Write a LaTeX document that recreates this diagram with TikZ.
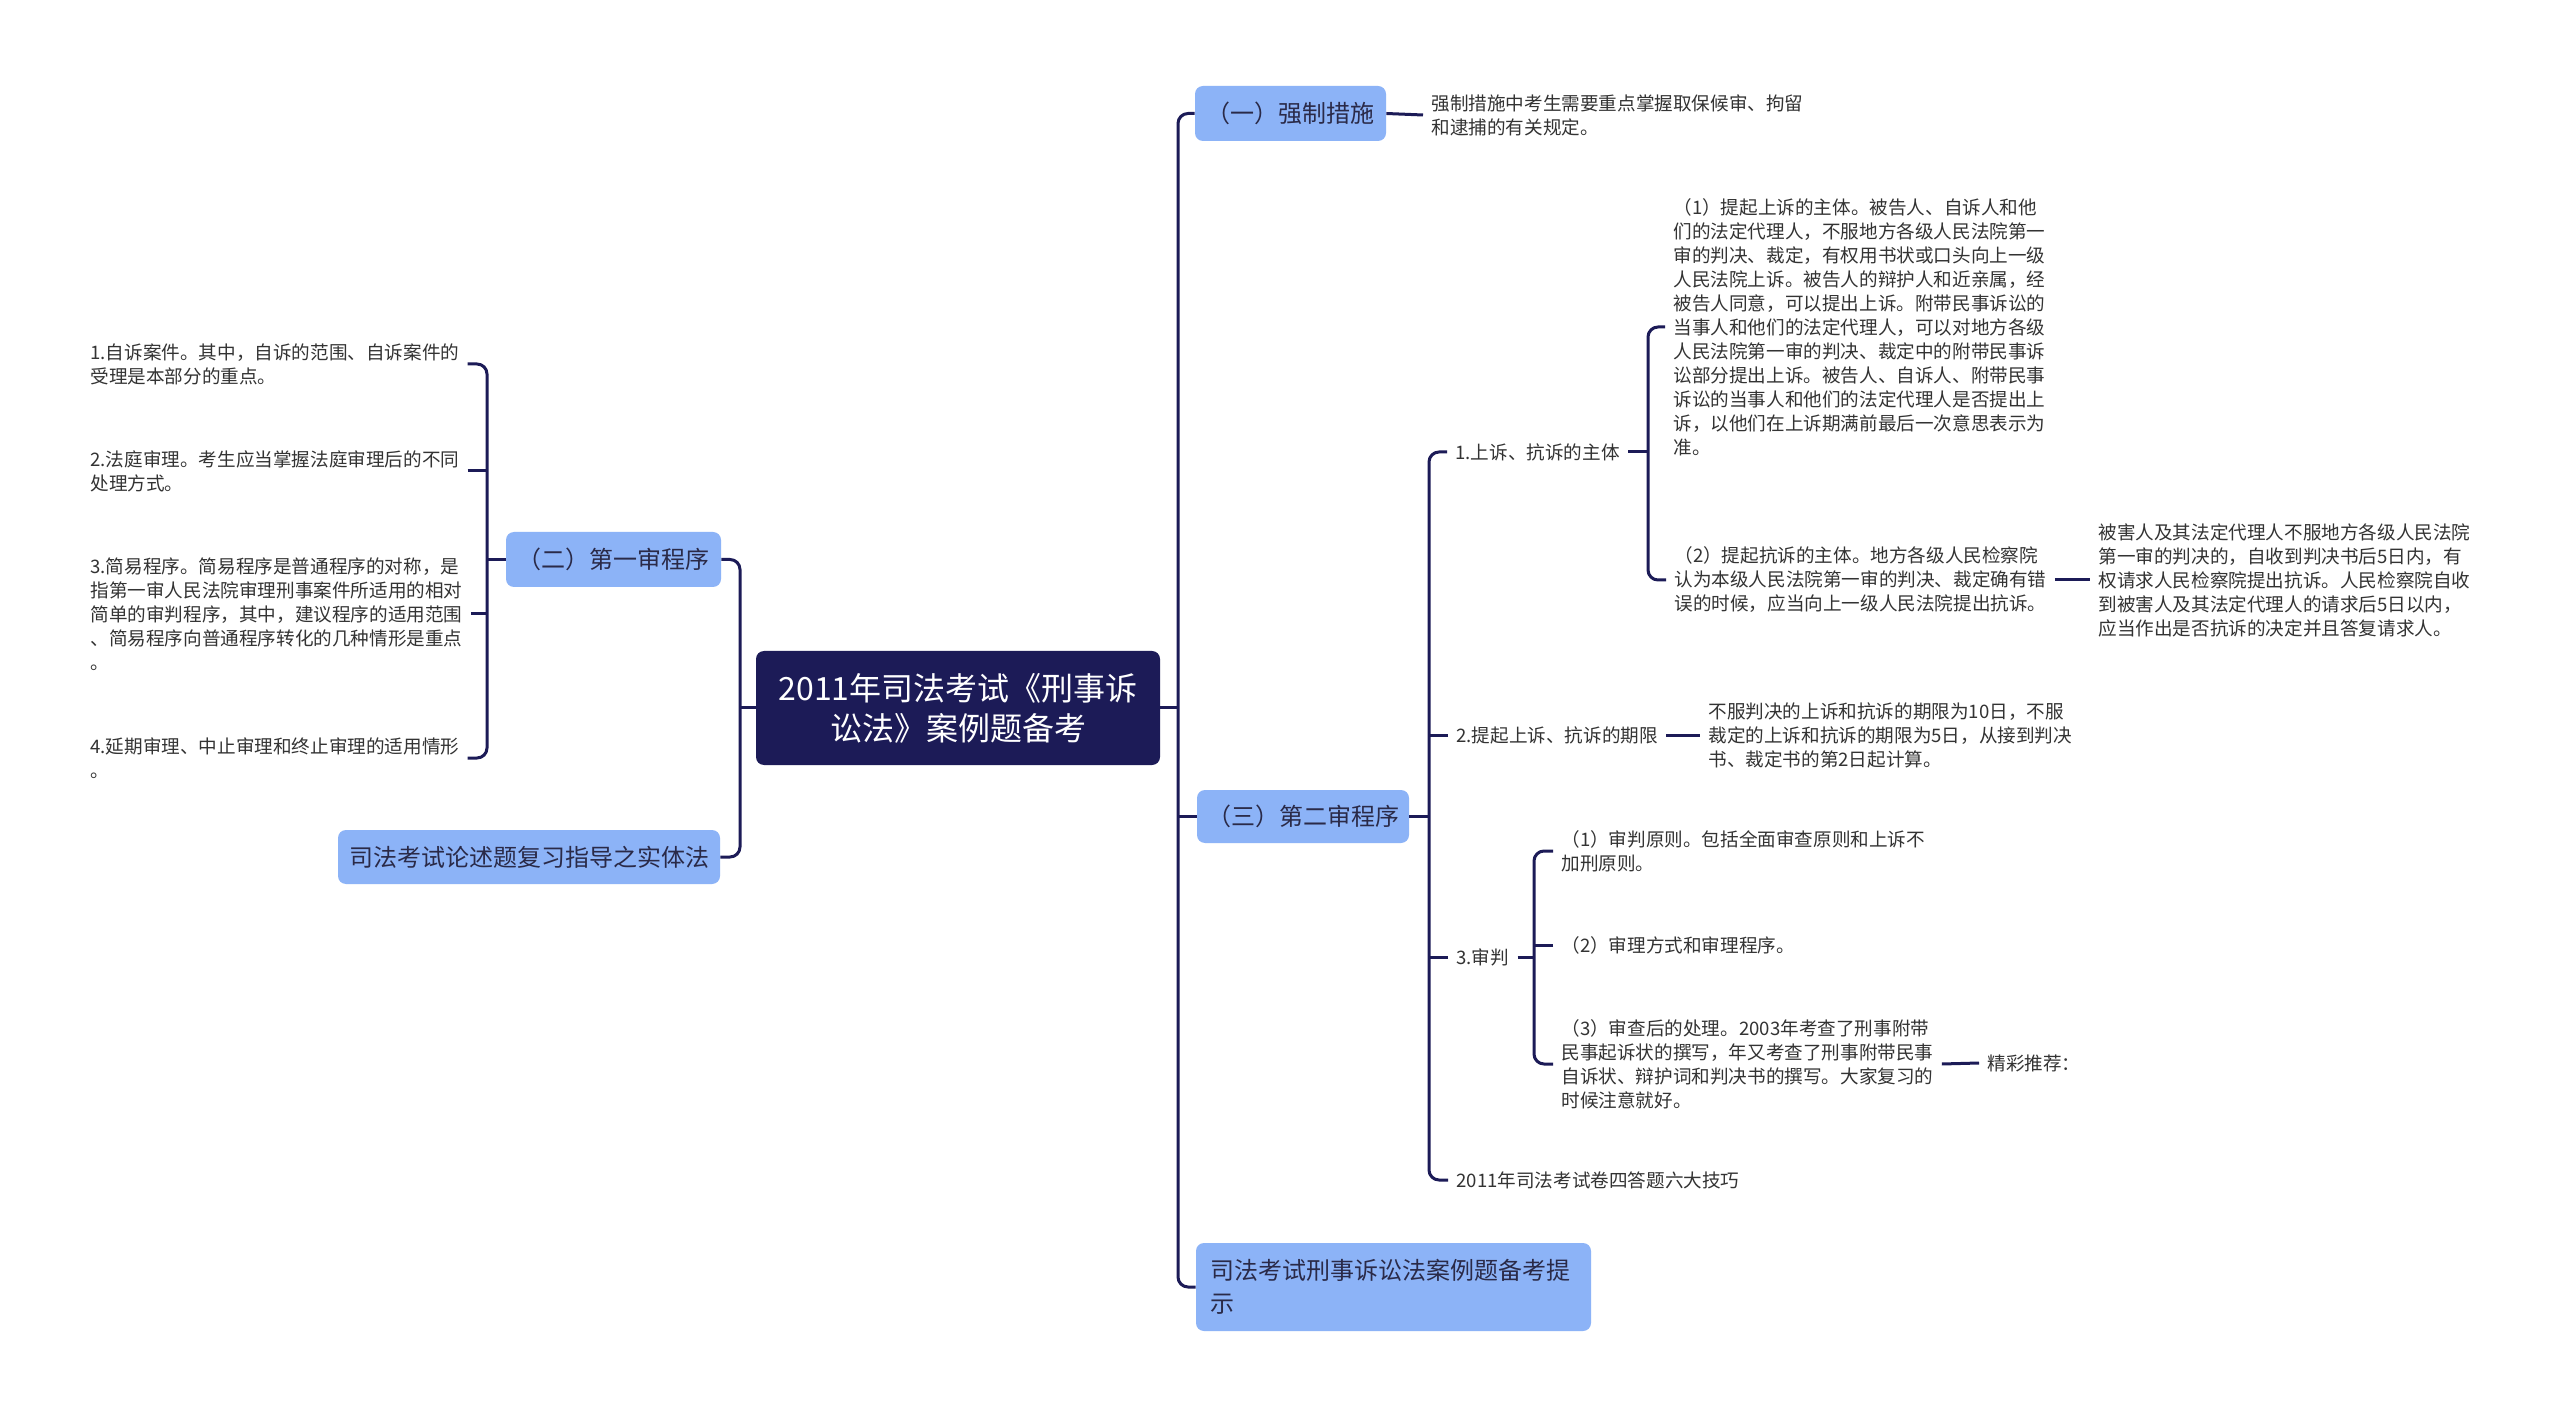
\documentclass[tikz,border=0pt]{standalone}
\usepackage{fontspec}
\setmainfont{Noto Sans CJK SC}
\definecolor{navy}{HTML}{1C1B57}
\definecolor{boxblue}{HTML}{8CB3F7}
\definecolor{leaftext}{HTML}{333333}
\definecolor{boxtext}{HTML}{2A2A48}
\begin{document}
\begin{tikzpicture}[x=0.5pt,y=-0.5pt,
  conn/.style={draw=navy, line width=1.5pt, rounded corners=5pt},
  rootbox/.style={fill=navy, text=white, rounded corners=4pt, font=\fontsize{16}{20}\selectfont, align=center, inner sep=0pt},
  mainbox/.style={fill=boxblue, text=boxtext, rounded corners=4pt, font=\fontsize{12}{16.5}\selectfont, inner sep=0pt},
  leaf/.style={text=leaftext, font=\fontsize{9.3}{12}\selectfont, align=left, inner xsep=4pt, inner ysep=2pt, anchor=west},
]
\useasboundingbox (0,0) rectangle (2560,1411);
\fill[white] (0,0) rectangle (2560,1411);

\coordinate (trR) at (1178,0);
\coordinate (trL) at (740,0);
\coordinate (tr3) at (1429,0);
\coordinate (brL) at (487,0);
\coordinate (br1) at (1648,0);
\coordinate (br3) at (1534,0);

% main boxes
\node[rootbox, minimum width=202pt, minimum height=57pt] (root) at (958,708) {2011年司法考试《刑事诉\\讼法》案例题备考};
\node[mainbox, minimum width=95.5pt, minimum height=27.5pt] (b1) at (1290.5,113.5) {（一）强制措施};
\node[mainbox, minimum width=106pt, minimum height=26.5pt] (b3) at (1303,816.5) {（三）第二审程序};
\node[mainbox, align=left, text width=183pt, inner xsep=7.25pt, minimum height=44pt] (b4) at (1393.5,1287) {司法考试刑事诉讼法案例题备考提\\示};
\node[mainbox, minimum width=107.5pt, minimum height=27.5pt] (b2) at (613.5,559.5) {（二）第一审程序};
\node[mainbox, minimum width=191pt, minimum height=27pt] (b5) at (529,857) {司法考试论述题复习指导之实体法};

% left leaves
\node[leaf] (L1) at (82,364) {1.自诉案件。其中，自诉的范围、自诉案件的\\受理是本部分的重点。};
\node[leaf] (L2) at (82,471) {2.法庭审理。考生应当掌握法庭审理后的不同\\处理方式。};
\node[leaf] (L3) at (82,614) {3.简易程序。简易程序是普通程序的对称，是\\指第一审人民法院审理刑事案件所适用的相对\\简单的审判程序，其中，建议程序的适用范围\\、简易程序向普通程序转化的几种情形是重点\\。};
\node[leaf] (L4) at (82,758) {4.延期审理、中止审理和终止审理的适用情形\\。};

% right leaves
\node[leaf] (a1) at (1423,115) {强制措施中考生需要重点掌握取保候审、拘留\\和逮捕的有关规定。};
\node[leaf] (n1) at (1447,452) {1.上诉、抗诉的主体};
\node[leaf] (p1) at (1665,327) {（1）提起上诉的主体。被告人、自诉人和他\\们的法定代理人，不服地方各级人民法院第一\\审的判决、裁定，有权用书状或口头向上一级\\人民法院上诉。被告人的辩护人和近亲属，经\\被告人同意，可以提出上诉。附带民事诉讼的\\当事人和他们的法定代理人，可以对地方各级\\人民法院第一审的判决、裁定中的附带民事诉\\讼部分提出上诉。被告人、自诉人、附带民事\\诉讼的当事人和他们的法定代理人是否提出上\\诉，以他们在上诉期满前最后一次意思表示为\\准。};
\node[leaf] (p2) at (1666,580) {（2）提起抗诉的主体。地方各级人民检察院\\认为本级人民法院第一审的判决、裁定确有错\\误的时候，应当向上一级人民法院提出抗诉。};
\node[leaf] (q2) at (2090,580) {被害人及其法定代理人不服地方各级人民法院\\第一审的判决的，自收到判决书后5日内，有\\权请求人民检察院提出抗诉。人民检察院自收\\到被害人及其法定代理人的请求后5日以内，\\应当作出是否抗诉的决定并且答复请求人。};
\node[leaf] (n2) at (1448,735) {2.提起上诉、抗诉的期限};
\node[leaf] (m2) at (1700,735) {不服判决的上诉和抗诉的期限为10日，不服\\裁定的上诉和抗诉的期限为5日，从接到判决\\书、裁定书的第2日起计算。};
\node[leaf] (n3) at (1448,957) {3.审判};
\node[leaf] (s1) at (1553,851) {（1）审判原则。包括全面审查原则和上诉不\\加刑原则。};
\node[leaf] (s2) at (1553,945) {（2）审理方式和审理程序。};
\node[leaf] (s3) at (1553,1064) {（3）审查后的处理。2003年考查了刑事附带\\民事起诉状的撰写，年又考查了刑事附带民事\\自诉状、辩护词和判决书的撰写。大家复习的\\时候注意就好。};
\node[leaf] (t3) at (1979,1063) {精彩推荐：};
\node[leaf] (n4) at (1448,1180) {2011年司法考试卷四答题六大技巧};

% connectors: root
\draw[conn] (root.east) -- (root.east -| trR);
\draw[conn] (root.west) -- (root.west -| trL);
\draw[conn] (b1.west) -- (b1.west -| trR) -- (b4.west -| trR) -- (b4.west);
\draw[conn] (b3.west) -- (b3.west -| trR);
\draw[conn] (b2.east) -- (b2.east -| trL) -- (b5.east -| trL) -- (b5.east);

% left bracket
\draw[conn] (b2.west) -- (b2.west -| brL);
\draw[conn] (L1.east) -- (L1.east -| brL) -- (L4.east -| brL) -- (L4.east);
\draw[conn] (L2.east) -- (L2.east -| brL);
\draw[conn] (L3.east) -- (L3.east -| brL);

% (一)
\draw[conn] (b1.east) -- (a1.west);

% (三)
\draw[conn] (b3.east) -- (b3.east -| tr3);
\draw[conn] (n1.west) -- (n1.west -| tr3) -- (n4.west -| tr3) -- (n4.west);
\draw[conn] (n2.west) -- (n2.west -| tr3);
\draw[conn] (n3.west) -- (n3.west -| tr3);

\draw[conn] (n1.east) -- (n1.east -| br1);
\draw[conn] (p1.west) -- (p1.west -| br1) -- (p2.west -| br1) -- (p2.west);
\draw[conn] (p2.east) -- (q2.west);
\draw[conn] (n2.east) -- (m2.west);

\draw[conn] (n3.east) -- (n3.east -| br3);
\draw[conn] (s1.west) -- (s1.west -| br3) -- (s3.west -| br3) -- (s3.west);
\draw[conn] (s2.west) -- (s2.west -| br3);
\draw[conn] (s3.east) -- (t3.west);
\end{tikzpicture}
\end{document}
